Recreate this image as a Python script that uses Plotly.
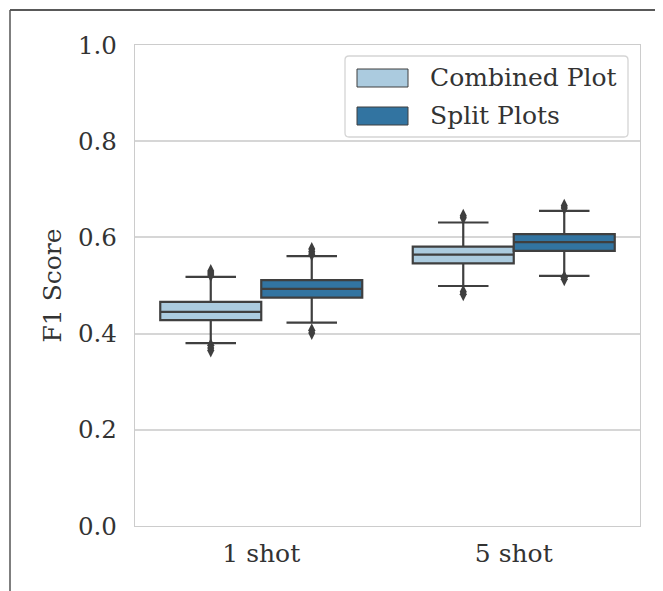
import plotly.graph_objects as go

categories = ["1 shot", "5 shot"]
series = ["Combined Plot", "Split Plots"]
colors = ["#abcbdf", "#3274a1"]

# box statistics per series, per category
q1 = {"Combined Plot": [0.428, 0.546], "Split Plots": [0.475, 0.572]}
median = {"Combined Plot": [0.445, 0.564], "Split Plots": [0.493, 0.590]}
q3 = {"Combined Plot": [0.466, 0.581], "Split Plots": [0.511, 0.607]}
lower_whisker = {"Combined Plot": [0.380, 0.499], "Split Plots": [0.423, 0.520]}
upper_whisker = {"Combined Plot": [0.518, 0.631], "Split Plots": [0.561, 0.655]}
outliers = {
    "Combined Plot": [[0.530, 0.526, 0.522, 0.376, 0.370, 0.365],
                      [0.645, 0.641, 0.487, 0.482]],
    "Split Plots": [[0.576, 0.570, 0.565, 0.407, 0.401],
                    [0.666, 0.661, 0.517, 0.513]],
}
yticks = [0.0, 0.2, 0.4, 0.6, 0.8, 1.0]

FONT = "DejaVu Serif"
EDGE = "#3f3f3f"
TXT = "#333333"

# page body has an 8px margin; layout in page pixels
PAD = 8
L, R, T, B = 135, 640, 45, 526   # plot area in page pixels
W, H = 663 - PAD, 591 - PAD


def px(x):
    return (x - L) / (R - L)


def py(y):
    return (B - y) / (B - T)


fig = go.Figure()
width = 0.4
for si, s in enumerate(series):
    offset = (si - 0.5) * width
    xs = [ci + offset for ci in range(len(categories))]
    fig.add_trace(go.Box(
        x=xs, q1=q1[s], median=median[s], q3=q3[s],
        lowerfence=lower_whisker[s], upperfence=upper_whisker[s],
        width=width, whiskerwidth=0.5, fillcolor=colors[si],
        line=dict(color=EDGE, width=2.2), name=s, showlegend=False,
        boxpoints=False, hoverinfo="skip",
    ))
    ox, oy = [], []
    for ci, vals in enumerate(outliers[s]):
        ox += [xs[ci]] * len(vals)
        oy += vals
    fig.add_trace(go.Scatter(
        x=ox, y=oy, mode="markers", showlegend=False,
        marker=dict(symbol="diamond-tall", size=10, color=EDGE, line=dict(width=0)),
        hoverinfo="skip",
    ))

shapes = []
annotations = []
# legend drawn manually (rounded frame)
lx0, lx1, ly0, ly1, rr = px(345), px(628), py(137), py(56), 4
rx, ry = rr / (R - L), rr / (B - T)
path = (f"M {lx0+rx},{ly1} L {lx1-rx},{ly1} Q {lx1},{ly1} {lx1},{ly1-ry} "
        f"L {lx1},{ly0+ry} Q {lx1},{ly0} {lx1-rx},{ly0} "
        f"L {lx0+rx},{ly0} Q {lx0},{ly0} {lx0},{ly0+ry} "
        f"L {lx0},{ly1-ry} Q {lx0},{ly1} {lx0+rx},{ly1} Z")
shapes.append(dict(type="path", xref="paper", yref="paper", path=path,
                   line=dict(color="#d5d5d5", width=1.3), fillcolor="white",
                   layer="above"))
for si, s in enumerate(series):
    cy = 78 + si * 38
    shapes.append(dict(type="rect", xref="paper", yref="paper",
                       x0=px(357), x1=px(408), y0=py(cy + 9), y1=py(cy - 9),
                       line=dict(color=EDGE, width=1), fillcolor=colors[si],
                       layer="above"))
    annotations.append(dict(xref="paper", yref="paper", x=px(428),
                            y=py(cy), text=s, showarrow=False,
                            xanchor="left", yanchor="middle",
                            font=dict(family=FONT, size=25, color=TXT)))
# figure border (top and left)
shapes.append(dict(type="line", xref="paper", yref="paper",
                   x0=px(10), x1=px(720), y0=py(10), y1=py(10),
                   line=dict(color="#222222", width=1.5), layer="above"))
shapes.append(dict(type="line", xref="paper", yref="paper",
                   x0=px(10), x1=px(10), y0=py(10), y1=py(640),
                   line=dict(color="#555555", width=1.5), layer="above"))

fig.update_layout(
    width=W, height=H,
    margin=dict(l=L - PAD, r=W - (R - PAD), t=T - PAD, b=H - (B - PAD)),
    plot_bgcolor="white", paper_bgcolor="white",
    font=dict(family=FONT, size=25, color=TXT),
    showlegend=False,
    shapes=shapes, annotations=annotations,
    xaxis=dict(range=[-0.5, 1.5], tickvals=list(range(len(categories))),
               ticktext=categories, showgrid=False, zeroline=False,
               showline=True, mirror=True, linecolor="#cccccc", linewidth=1.3,
               ticks="", tickfont=dict(size=25), ticklabelstandoff=5),
    yaxis=dict(range=[0, 1], tickvals=yticks,
               ticktext=[f"{v:.1f}" for v in yticks],
               showgrid=True, gridcolor="#d6d6d6", gridwidth=1.5,
               zeroline=False, showline=True, mirror=True,
               linecolor="#cccccc", linewidth=1.3, ticks="",
               tickfont=dict(size=24.5), ticklabelstandoff=12,
               title=dict(text="F1 Score", font=dict(size=25), standoff=9)),
)

fig.write_html("out.html")
